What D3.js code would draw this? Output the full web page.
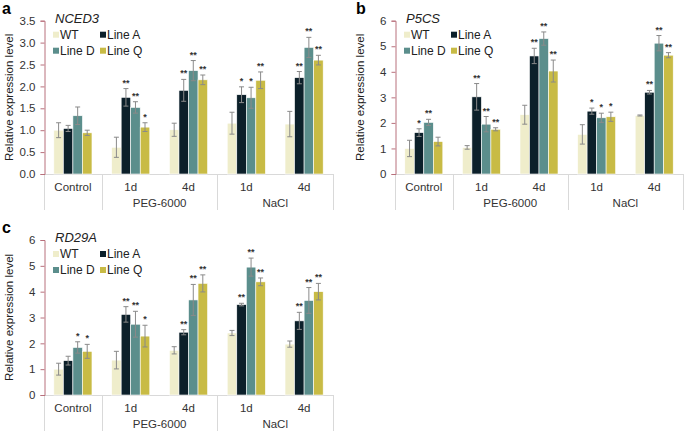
<!DOCTYPE html>
<html>
<head>
<meta charset="utf-8">
<script src="https://cdn.jsdelivr.net/npm/d3@7"></script>
<style>
  body { margin: 0; background: #fff; }
  svg { font-family: "Liberation Sans", Arial, sans-serif; }
</style>
</head>
<body>
<div id="chart"></div>
<script>
// series and categories
const series = ["WT", "Line A", "Line D", "Line Q"];
const colors = ["#efedcb", "#0c202a", "#5b8e8c", "#c8bb45"];
const groups = ["Control", "PEG 1d", "PEG 4d", "NaCl 1d", "NaCl 4d"];
const groupLabels = ["Control", "1d", "4d", "1d", "4d"];
const treatments = [["", 0, 1], ["PEG-6000", 1, 3], ["NaCl", 3, 5]];

// NCED3 (panel a): rows = groups, cols = series
const nced3Mean = [[1.00, 1.04, 1.33, 0.94], [0.61, 1.75, 1.52, 1.07], [1.01, 1.91, 2.36, 2.15], [1.16, 1.81, 1.74, 2.14], [1.14, 2.20, 2.89, 2.60]];
const nced3Err  = [[0.17, 0.07, 0.20, 0.06], [0.23, 0.20, 0.13, 0.10], [0.15, 0.25, 0.23, 0.11], [0.25, 0.18, 0.24, 0.19], [0.29, 0.14, 0.23, 0.11]];
const nced3Sig  = [["", "", "", ""], ["", "**", "**", "*"], ["", "**", "**", "**"], ["", "*", "*", "**"], ["", "**", "**", "**"]];
const nced3Ticks = [0, 0.5, 1.0, 1.5, 2.0, 2.5, 3.0, 3.5];

// P5CS (panel b)
const p5csMean = [[1.00, 1.62, 2.02, 1.27], [1.04, 3.02, 1.95, 1.75], [2.32, 4.62, 5.30, 4.03], [1.55, 2.46, 2.20, 2.24], [2.29, 3.20, 5.12, 4.65]];
const p5csErr  = [[0.32, 0.15, 0.12, 0.17], [0.07, 0.52, 0.30, 0.06], [0.37, 0.30, 0.26, 0.43], [0.38, 0.12, 0.18, 0.18], [0.02, 0.07, 0.30, 0.10]];
const p5csSig  = [["", "*", "**", ""], ["", "**", "**", "**"], ["", "**", "**", "**"], ["", "*", "*", "*"], ["", "**", "**", "**"]];
const p5csTicks = [0, 1, 2, 3, 4, 5, 6];

// RD29A (panel c)
const rd29aMean = [[1.00, 1.33, 1.84, 1.69], [1.35, 3.12, 2.74, 2.28], [1.73, 2.43, 3.68, 4.32], [2.40, 3.50, 4.95, 4.38], [1.97, 2.87, 3.66, 4.00]];
const rd29aErr  = [[0.23, 0.17, 0.22, 0.27], [0.34, 0.30, 0.50, 0.42], [0.14, 0.10, 0.60, 0.33], [0.10, 0.05, 0.35, 0.15], [0.12, 0.33, 0.50, 0.32]];
const rd29aSig  = [["", "", "*", "*"], ["", "**", "**", "*"], ["", "**", "**", "**"], ["", "**", "**", "**"], ["", "**", "**", "**"]];
const rd29aTicks = [0, 1, 2, 3, 4, 5, 6];

const W = 685, H = 431;
const svg = d3.select("#chart").append("svg").attr("width", W).attr("height", H);

function drawPanel(p) {
    const g = svg.append("g");
    const y = d3.scaleLinear().domain([0, p.ticks[p.ticks.length - 1]]).range([p.bottom, p.top]);
    const x0 = d3.scaleBand().domain(groups).range([p.left, p.right]).paddingInner(0.34).paddingOuter(0.17);
    const x1 = d3.scaleBand().domain(series).range([0, x0.bandwidth()]);
    const step = (p.right - p.left) / groups.length;

    // category frame
    const frame = "#d9d9d9";
    g.append("line").attr("x1", p.left).attr("x2", p.right).attr("y1", p.bottom + 0.5).attr("y2", p.bottom + 0.5)
        .attr("stroke", frame);
    treatments.forEach(t => {
        [t[1], t[2]].forEach(k => {
            const xx = Math.round(p.left + k * step) + 0.5;
            g.append("line").attr("x1", xx).attr("x2", xx).attr("y1", p.bottom).attr("y2", p.bottom + 36)
                .attr("stroke", frame);
        });
        if (t[0]) {
            g.append("text").attr("x", p.left + (t[1] + t[2]) / 2 * step).attr("y", p.bottom + 33)
                .attr("text-anchor", "middle").style("font-size", "11.5px").style("fill", "#333").text(t[0]);
        }
    });
    groups.forEach((grp, i) => {
        g.append("text").attr("x", x0(grp) + x0.bandwidth() / 2).attr("y", p.bottom + 17)
            .attr("text-anchor", "middle").style("font-size", "11.5px").style("fill", "#333").text(groupLabels[i]);
    });

    // y axis
    const axis = g.append("g").attr("transform", `translate(${p.left + 0.5},0)`)
        .call(d3.axisLeft(y).tickValues(p.ticks).tickSize(4).tickPadding(5)
            .tickFormat(p.fmt));
    axis.select(".domain").attr("stroke", "#b8707c");
    axis.selectAll(".tick line").attr("stroke", "#b8707c");
    axis.selectAll(".tick text").style("font-size", "11.5px").style("fill", "#333")
        .style("font-family", "'Liberation Sans', Arial, sans-serif");

    g.append("text").attr("transform", `translate(${p.left - 31},${(p.top + p.bottom) / 2}) rotate(-90)`)
        .attr("text-anchor", "middle").style("font-size", "11.5px").style("fill", "#222")
        .text("Relative expression level");

    // bars
    groups.forEach((grp, i) => {
        series.forEach((s, j) => {
            const v = p.mean[i][j], e = p.err[i][j];
            const bx = x0(grp) + x1(s);
            const cx = bx + x1.bandwidth() / 2;
            g.append("rect").attr("x", bx).attr("y", y(v)).attr("width", x1.bandwidth())
                .attr("height", y(0) - y(v)).attr("fill", colors[j])
                .attr("stroke", "#fff").attr("stroke-width", 0.6);
            const eg = g.append("g").attr("stroke", "#8a8a8a").attr("stroke-width", 1);
            eg.append("line").attr("x1", cx).attr("x2", cx).attr("y1", y(v - e)).attr("y2", y(v + e));
            eg.append("line").attr("x1", cx - 2.5).attr("x2", cx + 2.5).attr("y1", y(v - e)).attr("y2", y(v - e));
            eg.append("line").attr("x1", cx - 2.5).attr("x2", cx + 2.5).attr("y1", y(v + e)).attr("y2", y(v + e));
            if (p.sig[i][j]) {
                g.append("text").attr("x", cx).attr("y", y(v + e) - 3).attr("text-anchor", "middle")
                    .style("font-size", "9px").style("font-weight", "bold").style("fill", "#333")
                    .text(p.sig[i][j]);
            }
        });
    });

    // panel letter and gene title
    g.append("text").attr("x", p.letterX).attr("y", p.top - 7).style("font-size", "16px")
        .style("font-weight", "bold").style("fill", "#000").text(p.letter);
    g.append("text").attr("x", p.left + 11).attr("y", p.top + 2).style("font-size", "13px")
        .style("font-style", "italic").style("fill", "#222").text(p.gene);

    // legend
    series.forEach((s, j) => {
        const lx = p.left + 9 + (j % 2) * 47;
        const ly = p.top + 18 + Math.floor(j / 2) * 16;
        g.append("rect").attr("x", lx).attr("y", ly - 7).attr("width", 6).attr("height", 6).attr("fill", colors[j]);
        g.append("text").attr("x", lx + 7).attr("y", ly).style("font-size", "12px").style("fill", "#222").text(s);
    });
}

drawPanel({ left: 44, right: 333, top: 20.7, bottom: 174, ticks: nced3Ticks, fmt: d3.format(".1f"),
    mean: nced3Mean, err: nced3Err, sig: nced3Sig, letter: "a", letterX: 2, gene: "NCED3" });
drawPanel({ left: 395, right: 683, top: 20.7, bottom: 174, ticks: p5csTicks, fmt: d3.format("d"),
    mean: p5csMean, err: p5csErr, sig: p5csSig, letter: "b", letterX: 356, gene: "P5CS" });
drawPanel({ left: 44, right: 333, top: 240, bottom: 395, ticks: rd29aTicks, fmt: d3.format("d"),
    mean: rd29aMean, err: rd29aErr, sig: rd29aSig, letter: "c", letterX: 2, gene: "RD29A" });
</script>
</body>
</html>
